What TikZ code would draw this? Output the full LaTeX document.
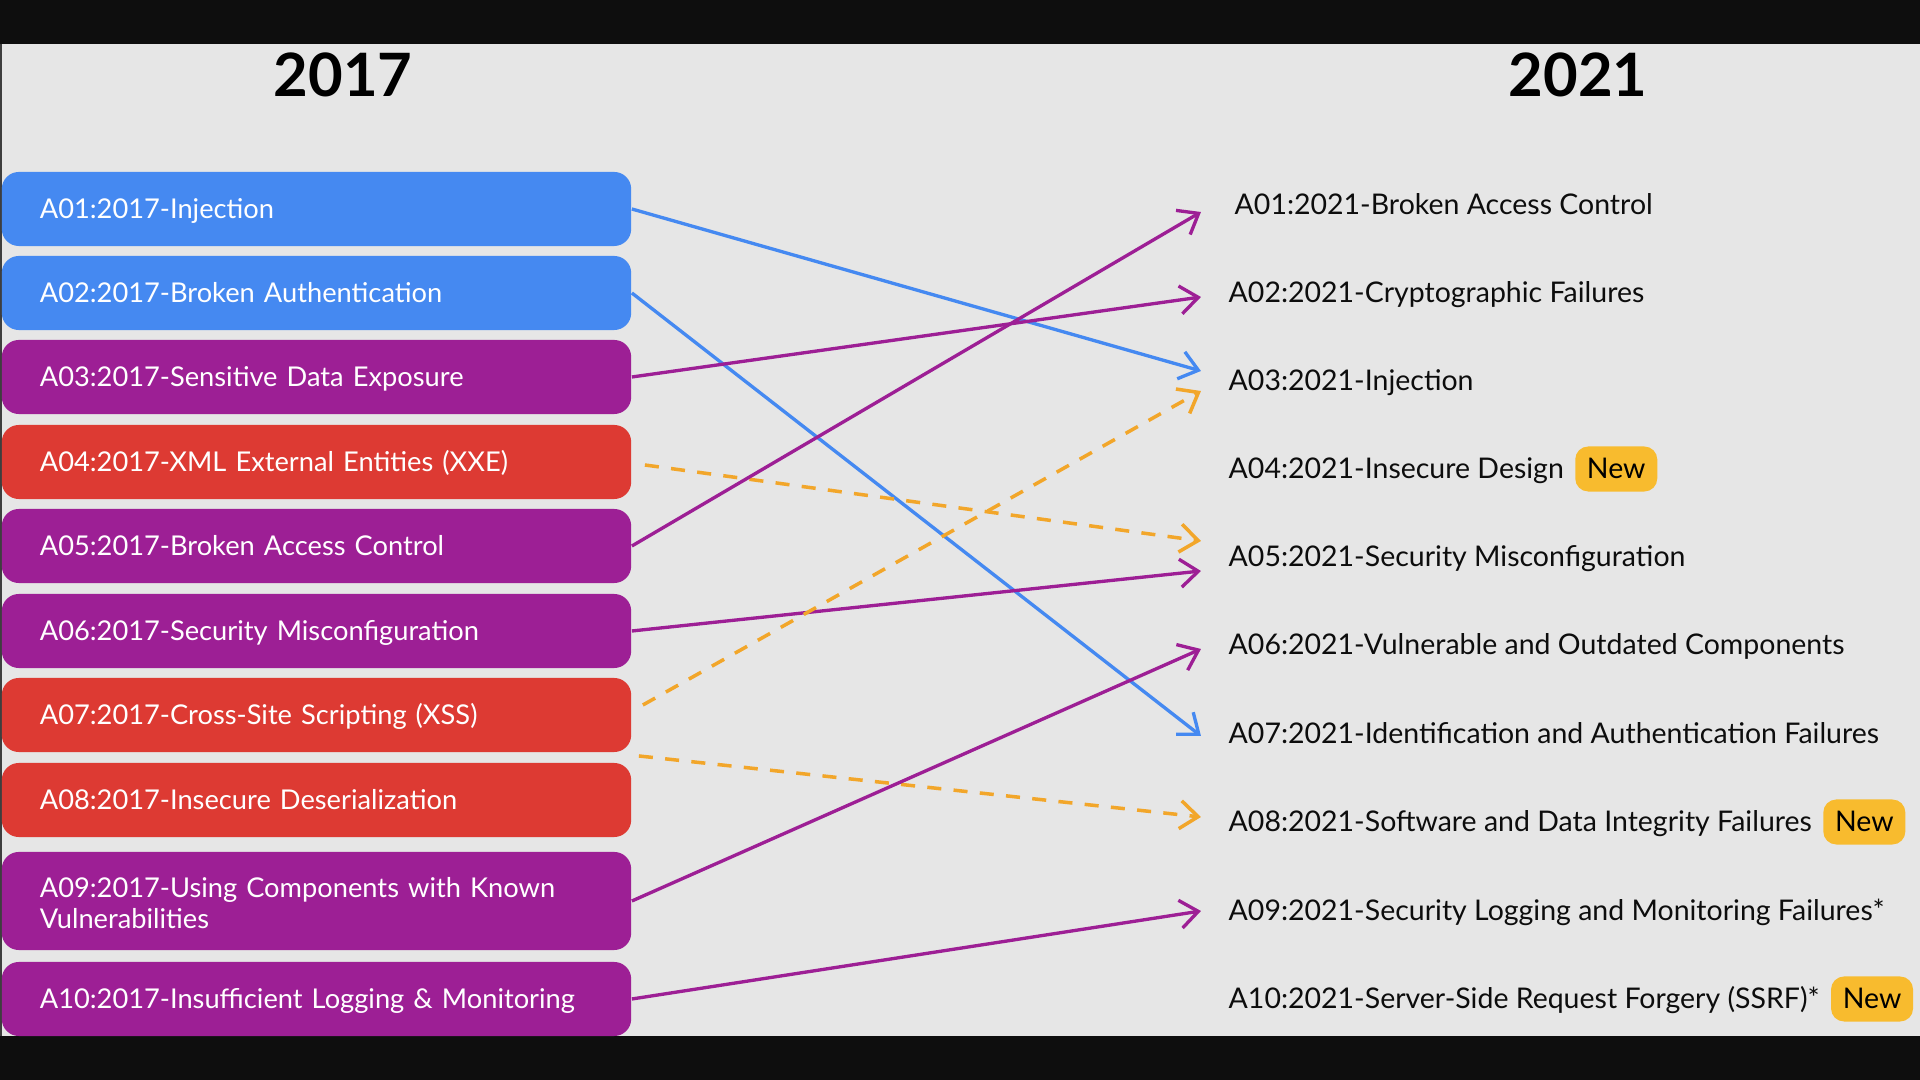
\documentclass[tikz,border=0pt]{standalone}
\usepackage{fontspec}
\setmainfont{Lato}
\usetikzlibrary{arrows.meta, positioning}

\definecolor{owblue}{HTML}{4589F1}
\definecolor{owpurple}{HTML}{9D1F95}
\definecolor{owred}{HTML}{DD3A33}
\definecolor{oworange}{HTML}{F2A62A}
\definecolor{owyellow}{HTML}{F8BB2E}
\definecolor{owbg}{HTML}{E6E6E6}
\definecolor{owbar}{HTML}{0E0E0E}

\tikzset{
  oldbox/.style={rounded corners=0.17cm, minimum width=6.29cm, minimum height=0.74cm,
    text width=5.53cm, inner xsep=0.38cm, inner ysep=0pt, align=left, text=white,
    text height=0.26cm, text depth=0.06cm, font=\fontsize{7.75}{8.7}\selectfont},
  newitem/.style={anchor=west, inner sep=0pt, text=black!95, text height=0.26cm,
    text depth=0.06cm, font=\fontsize{8.1}{9.4}\selectfont},
  newbadge/.style={fill=owyellow, rounded corners=0.13cm, minimum width=0.82cm,
    minimum height=0.45cm, inner sep=0pt, text height=0.26cm, text depth=0.06cm,
    font=\fontsize{8.1}{9.4}\selectfont},
  yearlabel/.style={font=\fontsize{17}{20}\selectfont\bfseries},
  solidmove/.style={line width=0.95pt, -{Straight Barb[length=1.8mm, width=2.8mm, line width=0.95pt]}},
  dashmove/.style={oworange, line width=1pt, dash pattern=on 4pt off 3.5pt,
    -{Straight Barb[length=1.8mm, width=2.8mm, line width=1pt]}}
}

\begin{document}
\begin{tikzpicture}[x=0.01cm, y=-0.01cm]
\useasboundingbox (0,0) rectangle (1920,1080);
% Background and bars
\fill[owbg] (0,44) rectangle (1920,1036);
\fill[owbar] (0,0) rectangle (1920,44);
\fill[owbar] (0,1036) rectangle (1920,1080);
\draw[owbar!80, line width=0.6pt] (1,44) -- (1,1036);

% Year titles
\node[yearlabel] (y17) at (343,75) {2017};
\node[yearlabel] (y21) at (1578,75) {2021};

% 2017 list
\node[oldbox, fill=owblue] (b1) at (316.5,209) {A01:2017-Injection};
\node[oldbox, fill=owblue] (b2) at (316.5,293) {A02:2017-Broken Authentication};
\node[oldbox, fill=owpurple] (b3) at (316.5,377) {A03:2017-Sensitive Data Exposure};
\node[oldbox, fill=owred] (b4) at (316.5,462) {A04:2017-XML External Entities (XXE)};
\node[oldbox, fill=owpurple] (b5) at (316.5,546) {A05:2017-Broken Access Control};
\node[oldbox, fill=owpurple] (b6) at (316.5,631) {A06:2017-Security Misconfiguration};
\node[oldbox, fill=owred] (b7) at (316.5,715) {A07:2017-Cross-Site Scripting (XSS)};
\node[oldbox, fill=owred] (b8) at (316.5,800) {A08:2017-Insecure Deserialization};
\node[oldbox, fill=owpurple, minimum height=0.98cm, text height=0.33cm, text depth=0.40cm]
  (b9) at (316.5,901) {A09:2017-Using Components with Known\\Vulnerabilities};
\node[oldbox, fill=owpurple] (b10) at (316.5,999) {A10:2017-Insufficient Logging \& Monitoring};

% 2021 list
\node[newitem] (r1) at (1234,205) {A01:2021-Broken Access Control};
\node[newitem] (r2) at (1228,293) {A02:2021-Cryptographic Failures};
\node[newitem] (r3) at (1228,381) {A03:2021-Injection};
\node[newitem] (r4) at (1228,469) {A04:2021-Insecure Design};
\node[newitem] (r5) at (1228,557) {A05:2021-Security Misconfiguration};
\node[newitem] (r6) at (1228,645) {A06:2021-Vulnerable and Outdated Components};
\node[newitem] (r7) at (1228,734) {A07:2021-Identification and Authentication Failures};
\node[newitem] (r8) at (1228,822) {A08:2021-Software and Data Integrity Failures};
\node[newitem] (r9) at (1228,911) {A09:2021-Security Logging and Monitoring Failures*};
\node[newitem] (r10) at (1228,999) {A10:2021-Server-Side Request Forgery (SSRF)*};

% New badges
\node[newbadge, right=0.1cm of r4] (n4) {New};
\node[newbadge, right=0.1cm of r8] (n8) {New};
\node[newbadge, right=0.1cm of r10] (n10) {New};

% Moves
\draw[solidmove, owblue] (b1.east) -- ([xshift=-0.27cm, yshift=0.10cm]r3.west);
\draw[solidmove, owblue] (b2.east) -- ([xshift=-0.27cm, yshift=-0.02cm]r7.west);
\draw[solidmove, owpurple] (b3.east) -- ([xshift=-0.27cm, yshift=-0.04cm]r2.west);
\draw[dashmove] ([xshift=0.13cm, yshift=-0.03cm]b4.east) -- ([xshift=-0.27cm, yshift=0.16cm]r5.west);
\draw[solidmove, owpurple] (b5.east) -- ([xshift=-0.33cm, yshift=-0.07cm]r1.west);
\draw[solidmove, owpurple] (b6.east) -- ([xshift=-0.27cm, yshift=-0.14cm]r5.west);
\draw[dashmove] ([xshift=0.11cm, yshift=0.10cm]b7.east) -- ([xshift=-0.27cm, yshift=-0.10cm]r3.west);
\draw[dashmove] ([xshift=0.07cm, yshift=0.44cm]b8.east) -- ([xshift=-0.27cm, yshift=0.05cm]r8.west);
\draw[solidmove, owpurple] (b9.east) -- ([xshift=-0.27cm, yshift=-0.04cm]r6.west);
\draw[solidmove, owpurple] (b10.east) -- ([xshift=-0.27cm]r9.west);
\end{tikzpicture}
\end{document}
